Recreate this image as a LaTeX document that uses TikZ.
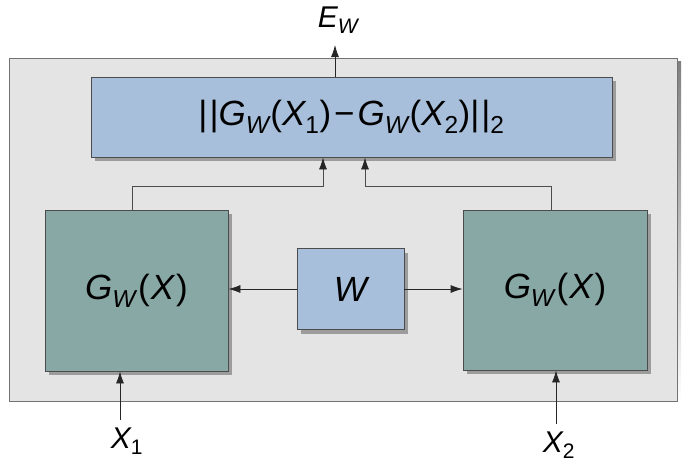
\documentclass[tikz,border=0pt]{standalone}
\usepackage{fontspec}
\setmainfont{Liberation Sans}
\usetikzlibrary{arrows.meta,shadows}
\definecolor{panel}{HTML}{E4E4E4}
\definecolor{netblue}{HTML}{A7BFDA}
\definecolor{netgreen}{HTML}{88A8A5}
\definecolor{shade}{HTML}{9C9C9C}
\newcommand{\lowsub}[1]{\textsubscript{#1}}
\newcommand{\up}[1]{{\upshape#1}}
\tikzset{
  box/.style={draw=black!70,line width=0.8pt,
    general shadow={fill=shade,shadow xshift=4pt,shadow yshift=-4pt}},
  blue box/.style={box,fill=netblue},
  green box/.style={box,fill=netgreen},
  flow/.style={-{Latex[length=12pt,width=8pt]},line width=0.8pt,black!85},
  wire/.style={line width=0.8pt,black!70},
  big/.style={font=\fontsize{35}{40}\selectfont\itshape},
  lbl/.style={font=\fontsize{30}{34}\selectfont\itshape}
}
\begin{document}
\begin{tikzpicture}[x=1pt,y=-1pt]
\useasboundingbox (0,0) rectangle (694,466);
% outer frame
\fill[shade] (12,61) rectangle (681,404);
\draw[fill=panel,draw=black!55,line width=0.8pt] (9,58) rectangle (677,401);
% network parts
\node[blue box,minimum width=521pt,minimum height=80pt,big] (dist) at (351.5,117)
  {\up{|\kern2pt|}G\lowsub{W}\kern1pt\up{(}X\lowsub{\up{1}}\up{)}\kern3pt\up{−}\kern3pt G\lowsub{W}\kern1pt\up{(}X\lowsub{\up{2}}\up{)}\up{|\kern2pt|\lowsub{2}}};
\node[green box,minimum width=183pt,minimum height=161pt,big] (gl) at (136.5,290.5)
  {G\lowsub{W}\kern2pt\up{(}\kern1pt X\kern2pt\up{)}};
\node[green box,minimum width=184pt,minimum height=160pt,big] (gr) at (555,290)
  {G\lowsub{W}\kern2pt\up{(}\kern1pt X\kern2pt\up{)}};
\node[blue box,minimum width=107pt,minimum height=81pt,big] (wb) at (350.5,289) {W};
% shared weights
\draw[flow] (wb.west) -- (wb.west -| gl.east);
\draw[flow] (wb.east) -- (wb.east -| gr.west);
% into the distance
\draw[wire] ([xshift=-4.5pt]gl.north) -- ++(0,-23) -| ([xshift=-28.5pt,yshift=-10pt]dist.south);
\draw[flow] ([xshift=-28.5pt,yshift=-10pt]dist.south) -- ([xshift=-28.5pt]dist.south);
\draw[wire] ([xshift=-4pt]gr.north) -- ++(0,-23) -| ([xshift=13.5pt,yshift=-10pt]dist.south);
\draw[flow] ([xshift=13.5pt,yshift=-10pt]dist.south) -- ([xshift=13.5pt]dist.south);
% output
\coordinate (eTip) at (335,45);
\draw[flow] (eTip |- dist.north) -- (eTip);
\node[lbl] (ew) at (338,20) {E\lowsub{W}};
% inputs
\coordinate (xa) at (120,420);
\coordinate (xb) at (556,424);
\draw[flow] (xa) -- (xa |- gl.south);
\draw[flow] (xb) -- (xb |- gr.south);
\node[lbl] (x1) at (127,441) {X\lowsub{\up{1}}};
\node[lbl] (x2) at (559,445) {X\lowsub{\up{2}}};
\end{tikzpicture}
\end{document}
